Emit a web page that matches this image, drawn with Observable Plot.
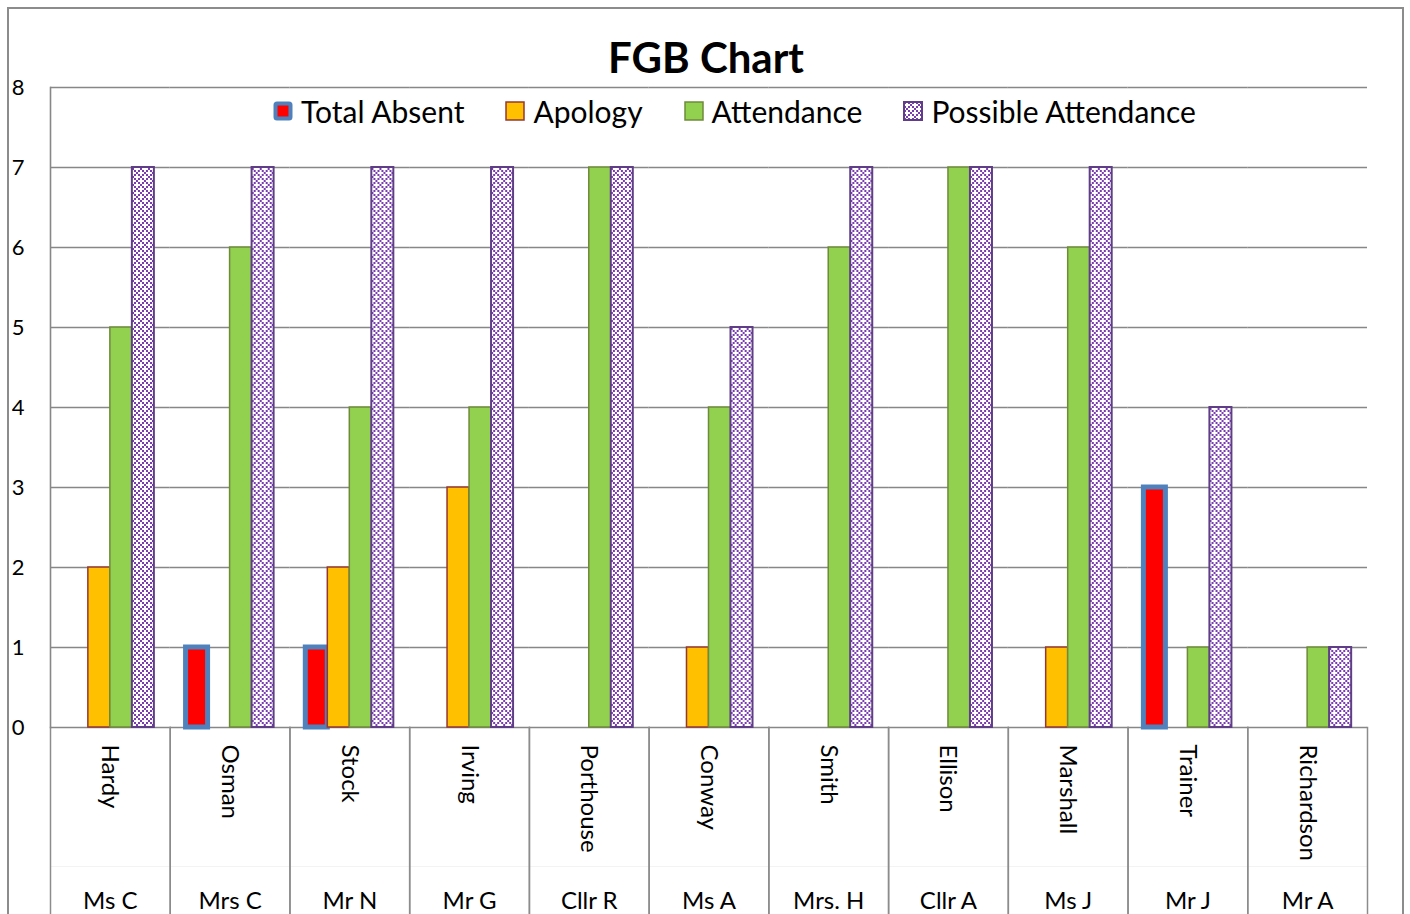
<!DOCTYPE html>
<html><head><meta charset="utf-8">
<script src="https://cdn.jsdelivr.net/npm/d3@7"></script>
<script src="https://cdn.jsdelivr.net/npm/@observablehq/plot@0.6"></script>
<style>
body{margin:0;background:#fff;}
#wrap{position:relative;width:1410px;height:914px;overflow:hidden;font-family:Lato,"Open Sans",sans-serif;color:#000;}
#border{position:absolute;left:7px;top:7px;width:1397px;height:960px;border:2px solid #8c8c8c;box-sizing:border-box;}
#chart{position:absolute;left:0;top:0;}
#title{position:absolute;left:0;width:1412px;top:31px;text-align:center;font-weight:bold;font-size:42px;line-height:52px;}
#legend{position:absolute;left:0;width:1468px;top:94px;height:34px;display:flex;justify-content:center;align-items:center;gap:40px;font-size:30px;}
.item{display:flex;align-items:center;gap:7px;white-space:nowrap;}
.item svg{display:block;}
</style></head>
<body><div id="wrap"><div id="border"></div><div id="chart"></div><div id="title">FGB Chart</div><div id="legend"></div></div>
<script>
const names = ["Hardy","Osman","Stock","Irving","Porthouse","Conway","Smith","Ellison","Marshall","Trainer","Richardson"];
const titles = ["Ms C","Mrs C","Mr N","Mr G","Cllr R","Ms A","Mrs. H","Cllr A","Ms J","Mr J","Mr A"];
const seriesNames = ["Total Absent","Apology","Attendance","Possible Attendance"];
const totalAbsent = [0,1,1,0,0,0,0,0,0,3,0];
const apology = [2,0,2,3,0,1,0,0,1,0,0];
const attendance = [5,6,4,4,7,4,6,7,6,1,1];
const possibleAttendance = [7,7,7,7,7,5,7,7,7,4,1];
const yTicks = [0,1,2,3,4,5,6,7,8];

const seriesValues = {"Total Absent": totalAbsent, "Apology": apology, "Attendance": attendance, "Possible Attendance": possibleAttendance};
const seriesStyle = {
  "Total Absent": {fill: "#FF0000", stroke: "#4F81BD", strokeWidth: 5},
  "Apology": {fill: "#FFC000", stroke: "#953735", strokeWidth: 1.5},
  "Attendance": {fill: "#92D050", stroke: "#6F8A3A", strokeWidth: 1.5},
  "Possible Attendance": {fill: "url(#possiblePat)", stroke: "#5F3E86", strokeWidth: 2}
};

const rows = [];
names.forEach((n, i) => seriesNames.forEach(s => rows.push({name: n, title: titles[i], series: s, value: seriesValues[s][i]})));
const cats = names.map((n, i) => ({name: n, title: titles[i]}));

const barMarks = seriesNames.map(s => Plot.barY(rows.filter(d => d.series === s && d.value > 0), {
  fx: "name", x: "series", y: "value", ...seriesStyle[s]
}));

const chart = Plot.plot({
  width: 1410, height: 914,
  marginLeft: 50, marginRight: 43, marginTop: 87, marginBottom: 187,
  style: {fontFamily: "Lato, 'Open Sans', sans-serif", background: "transparent", color: "#000", overflow: "visible"},
  fx: {domain: names, padding: 0, round: false, axis: null, label: null},
  x: {domain: seriesNames, paddingInner: 0, paddingOuter: 0.72, round: false, axis: null},
  y: {domain: [0, 8], axis: null},
  marks: [
    Plot.frame({anchor: "top", insetTop: 779, stroke: "#f3f3f3", strokeOpacity: 1}),
    Plot.gridY(yTicks, {stroke: "#878787", strokeOpacity: 1, strokeWidth: 1.6}),
    Plot.frame({anchor: "left", insetTop: 640, insetBottom: -187, stroke: "#8c8c8c", strokeOpacity: 1, strokeWidth: 1.5}),
    Plot.frame({anchor: "right", insetTop: 640, insetBottom: -187, stroke: "#8c8c8c", strokeOpacity: 1, strokeWidth: 1.5}),
    Plot.frame({anchor: "left", fx: [names[0]], stroke: "#878787", strokeOpacity: 1, strokeWidth: 1.6}),
    ...barMarks,
    Plot.axisY(yTicks, {tickSize: 0, tickPadding: 26, fontSize: 22, label: null, tickFormat: "d"}),
    Plot.text(cats, {fx: "name", text: "name", frameAnchor: "bottom", rotate: 90, textAnchor: "start", dx: -8, dy: 17, fontSize: 24, fill: "#000"}),
    Plot.text(cats, {fx: "name", text: "title", frameAnchor: "bottom", dy: 181, fontSize: 24, fill: "#000"})
  ]
});

function addPattern(svgSel, id) {
  const defs = svgSel.insert("defs", ":first-child");
  const p = defs.append("pattern").attr("id", id).attr("patternUnits", "userSpaceOnUse").attr("width", 8).attr("height", 8);
  p.append("rect").attr("width", 8).attr("height", 8).attr("fill", "#ffffff");
  for (let yy = 0; yy < 8; yy += 2) for (let xx = 0; xx < 8; xx += 2) {
    if (((xx + yy) / 2) % 2 === 0) p.append("rect").attr("x", xx).attr("y", yy).attr("width", 2).attr("height", 2).attr("fill", "#7A3CB0");
  }
  p.append("rect").attr("x", 4).attr("y", 4).attr("width", 2).attr("height", 2).attr("fill", "#ffffff");
  p.append("rect").attr("x", 0).attr("y", 0).attr("width", 2).attr("height", 2).attr("fill", "#ffffff");
}
addPattern(d3.select(chart), "possiblePat");
document.getElementById("chart").appendChild(chart);

const legend = d3.select("#legend");
seriesNames.forEach(s => {
  const st = seriesStyle[s];
  const item = legend.append("div").attr("class", "item");
  const sw = item.append("svg").attr("width", 22).attr("height", 22);
  const inset = Math.max(st.strokeWidth, 2) / 2 + 1;
  sw.append("rect").attr("x", inset).attr("y", inset).attr("width", 22 - 2 * inset).attr("height", 22 - 2 * inset)
    .attr("fill", st.fill).attr("stroke", st.stroke).attr("stroke-width", Math.min(st.strokeWidth, 4)).attr("rx", s === "Total Absent" ? 1.5 : 0);
  item.append("span").text(s);
});
</script></body></html>
